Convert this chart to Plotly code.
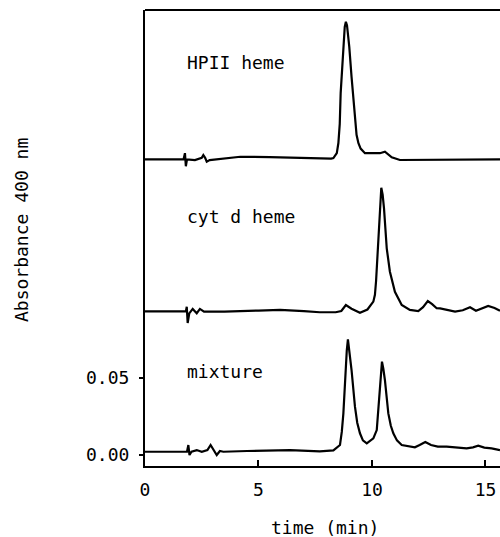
import plotly.graph_objects as go

# ---- data (time in min, absorbance at 400 nm, traces offset as in the figure) ----
hpii_t = [0.0, 1.2, 1.7, 1.76, 1.8, 1.85, 2.2, 2.5, 2.57, 2.65, 2.72, 2.85, 3.5, 4.2, 5.5, 6.5,
          7.7, 8.2, 8.3, 8.45, 8.52, 8.58, 8.62, 8.68, 8.74, 8.8, 8.85, 8.9, 8.95, 9.0, 9.1,
          9.18, 9.25, 9.32, 9.4, 9.5, 9.69, 10.0, 10.35, 10.57, 10.87, 11.23, 12.5, 14.0, 15.64]
hpii_a = [0.192, 0.192, 0.192, 0.196, 0.1875, 0.192, 0.1915, 0.193, 0.1948, 0.193, 0.1905,
          0.1915, 0.1925, 0.1937, 0.1935, 0.193, 0.1926, 0.1925, 0.1928, 0.196, 0.2026, 0.215,
          0.235, 0.252, 0.2675, 0.278, 0.2814, 0.279, 0.272, 0.265, 0.2456, 0.232, 0.2175,
          0.208, 0.2026, 0.199, 0.196, 0.196, 0.196, 0.197, 0.1933, 0.1916, 0.1916, 0.192, 0.192]

cytd_t = [0.0, 1.5, 1.8, 1.84, 1.88, 1.95, 2.1, 2.28, 2.42, 2.6, 3.5, 5.0, 5.95, 7.0, 7.7,
          8.4, 8.65, 8.85, 9.1, 9.47, 9.8, 10.06, 10.13, 10.18, 10.23, 10.28, 10.32, 10.37,
          10.41, 10.47, 10.53, 10.65, 10.79, 11.01, 11.31, 11.67, 12.04, 12.25, 12.46, 12.65,
          12.85, 13.0, 13.66, 14.0, 14.32, 14.58, 14.85, 15.12, 15.4, 15.64]
cytd_a = [0.0933, 0.0933, 0.0933, 0.0963, 0.0857, 0.092, 0.0949, 0.0921, 0.0949, 0.0931,
          0.0931, 0.0938, 0.0942, 0.0935, 0.0927, 0.0927, 0.0935, 0.0974, 0.095, 0.0924,
          0.0945, 0.0996, 0.104, 0.113, 0.1277, 0.142, 0.1558, 0.168, 0.1736, 0.169, 0.1602,
          0.1342, 0.119, 0.106, 0.0974, 0.0942, 0.0935, 0.096, 0.1, 0.098, 0.0953, 0.0952,
          0.0931, 0.094, 0.0959, 0.0937, 0.095, 0.0968, 0.0955, 0.0937]

mix_t = [0.0, 1.5, 1.85, 1.91, 1.96, 2.05, 2.28, 2.5, 2.75, 2.89, 3.02, 3.16, 3.3, 3.45, 4.5,
         6.39, 7.7, 8.3, 8.59, 8.67, 8.74, 8.79, 8.84, 8.89, 8.94, 9.0, 9.1, 9.25, 9.35, 9.47,
         9.6, 9.77, 9.9, 10.06, 10.21, 10.26, 10.31, 10.38, 10.44, 10.5, 10.57, 10.72, 10.83,
         10.94, 11.1, 11.31, 11.89, 12.1, 12.35, 12.6, 12.9, 13.29, 14.17, 14.45, 14.68, 14.95,
         15.27, 15.64]
mix_a = [0.0021, 0.0021, 0.0021, 0.0065, 0.0, 0.0021, 0.0032, 0.0021, 0.0032, 0.0065, 0.003,
         0.0, 0.0026, 0.0021, 0.0026, 0.0032, 0.0023, 0.003, 0.0065, 0.015, 0.027, 0.042,
         0.0552, 0.068, 0.0751, 0.068, 0.0552, 0.0314, 0.021, 0.0141, 0.0095, 0.0076, 0.009,
         0.0108, 0.0162, 0.026, 0.0379, 0.052, 0.0606, 0.056, 0.0487, 0.027, 0.019, 0.0141,
         0.0095, 0.0065, 0.005, 0.0065, 0.0085, 0.0065, 0.0055, 0.0054, 0.0043, 0.005, 0.006,
         0.0048, 0.0043, 0.0032]

labels = ["HPII heme", "cyt d heme", "mixture"]
label_pos_y = [0.255, 0.1547, 0.054]
label_pos_x = 1.75

x_ticks = [0, 5, 10, 15]
y_ticks = [0.0, 0.05]
y_tick_text = ["0.00", "0.05"]

FONT = "DejaVu Sans Mono"

W, H = 500, 537
L, T, B = 145, 10, 71
PW, PH = W - L, H - T - B  # 355 x 456

fig = go.Figure()
for t, a in [(hpii_t, hpii_a), (cytd_t, cytd_a), (mix_t, mix_a)]:
    fig.add_trace(go.Scatter(x=t, y=a, mode="lines",
                             line=dict(color="black", width=2.2), showlegend=False,
                             hoverinfo="skip"))

for txt, yy in zip(labels, label_pos_y):
    fig.add_annotation(x=label_pos_x, y=yy, xref="x", yref="y", text=txt,
                       showarrow=False, xanchor="left", yanchor="middle",
                       font=dict(family=FONT, size=18, color="black"))

# axis titles (screen coords -> paper coords)
fig.add_annotation(x=(22 - 145) / PW, y=(466 - 230) / PH, xref="paper", yref="paper",
                   text="Absorbance 400 nm", showarrow=False, textangle=-90,
                   xanchor="center", yanchor="middle",
                   font=dict(family=FONT, size=18, color="black"))
fig.add_annotation(x=(325 - 145) / PW, y=(466 - 527) / PH, xref="paper", yref="paper",
                   text="time (min)", showarrow=False, xanchor="center", yanchor="middle",
                   font=dict(family=FONT, size=18, color="black"))

fig.add_shape(type="line", xref="paper", yref="paper", x0=0, x1=1, y0=1, y1=1,
              line=dict(color="black", width=2))

fig.update_layout(
    width=W, height=H,
    margin=dict(l=L, r=0, t=T, b=B, pad=0),
    paper_bgcolor="white", plot_bgcolor="white",
    font=dict(family=FONT, size=18, color="black"),
    xaxis=dict(range=[0, 15.64], tickvals=x_ticks, ticktext=[str(v) for v in x_ticks],
               showgrid=False, zeroline=False, showline=True, linecolor="black", linewidth=2,
               ticks="inside", ticklen=6, tickwidth=2, tickcolor="black",
               ticklabelstandoff=6),
    yaxis=dict(range=[-0.00714, 0.289], tickvals=y_ticks, ticktext=y_tick_text,
               showgrid=False, zeroline=False, showline=True, linecolor="black", linewidth=2,
               ticks="outside", ticklen=4, tickwidth=2, tickcolor="black",
               ticklabelstandoff=6),
)

# remove the default page margin so the 500x537 figure fills the window exactly
fig.write_html("out.html",
               config={"displayModeBar": False},
               post_script="document.body.style.margin='0';"
                           "document.documentElement.style.overflow='hidden';")
